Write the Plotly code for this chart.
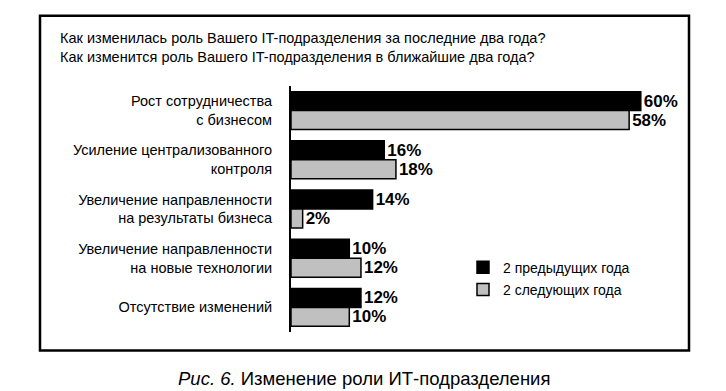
import plotly.graph_objects as go

categories = [
    "Рост сотрудничества<br>с бизнесом",
    "Усиление централизованного<br>контроля",
    "Увеличение направленности<br>на результаты бизнеса",
    "Увеличение направленности<br>на новые технологии",
    "Отсутствие изменений",
]
prev_two_years = [60, 16, 14, 10, 12]
next_two_years = [58, 18, 2, 12, 10]
series_names = ["2 предыдущих года", "2 следующих года"]
title_lines = [
    "Как изменилась роль Вашего IT-подразделения за последние два года?",
    "Как изменится роль Вашего IT-подразделения в ближайшие два года?",
]
caption_italic = "Рис. 6."
caption_text = "Изменение роли ИТ-подразделения"

W, H = 726, 391
PL, PR = 283, 681      # plot area left/right px
PT, PB = 78, 324.5     # plot area top/bottom px


def px(x):
    return (x - PL) / (PR - PL)


def py(y):
    return (PB - y) / (PB - PT)


FONT = "Liberation Sans, Arial, sans-serif"
NARROW = "Liberation Sans Narrow, Arial Narrow, Liberation Sans, sans-serif"

fig = go.Figure()
fig.add_trace(go.Bar(
    y=categories, x=prev_two_years, orientation="h", name=series_names[0],
    marker=dict(color="#000000", line=dict(color="#000000", width=1.5)),
    text=[f"{v}%" for v in prev_two_years], textposition="outside",
    textfont=dict(family=NARROW, size=17, color="#000000", weight="bold"),
    cliponaxis=False, legendgroup="a",
))
fig.add_trace(go.Bar(
    y=categories, x=next_two_years, orientation="h", name=series_names[1],
    marker=dict(color="#c0c0c0", line=dict(color="#000000", width=1.5)),
    text=[f"{v}%" for v in next_two_years], textposition="outside",
    textfont=dict(family=NARROW, size=17, color="#000000", weight="bold"),
    cliponaxis=False, legendgroup="b",
))

fig.update_layout(
    width=W, height=H,
    margin=dict(l=PL, r=W - PR, t=PT, b=H - PB, pad=0),
    paper_bgcolor="white", plot_bgcolor="white",
    barmode="group", bargap=0.23, bargroupgap=0,
    showlegend=True,
    legend=dict(
        x=px(455), y=py(244), xanchor="left", yanchor="top",
        font=dict(family=NARROW, size=14, color="#000000"),
        traceorder="grouped", tracegroupgap=1,
        bgcolor="rgba(0,0,0,0)",
    ),
    font=dict(family=FONT, color="#000000"),
    xaxis=dict(range=[0, (PR - PL) / 5.83], visible=False, fixedrange=True),
    yaxis=dict(
        autorange="reversed", showline=True, linecolor="#000000", linewidth=2,
        showgrid=False, zeroline=False, ticks="",
        tickfont=dict(family=FONT, size=14.5, color="#000000"),
        ticklabelstandoff=14,
    ),
    shapes=[dict(
        type="rect", xref="paper", yref="paper",
        x0=px(32), x1=px(681), y0=py(343), y1=py(7.5),
        line=dict(color="#000000", width=2.5), fillcolor="rgba(0,0,0,0)",
        layer="below",
    )],
    annotations=[
        dict(text="<br>".join(title_lines), xref="paper", yref="paper",
             x=px(50), y=py(39), xanchor="left", yanchor="middle", align="left",
             showarrow=False, font=dict(family=FONT, size=14.5, color="#000000")),
        dict(text=f"<i>{caption_italic}</i> {caption_text}", xref="paper", yref="paper",
             x=px(356), y=py(371), xanchor="center", yanchor="middle",
             showarrow=False, font=dict(family=FONT, size=18.5, color="#000000")),
    ],
)

fig.write_html("out.html")
